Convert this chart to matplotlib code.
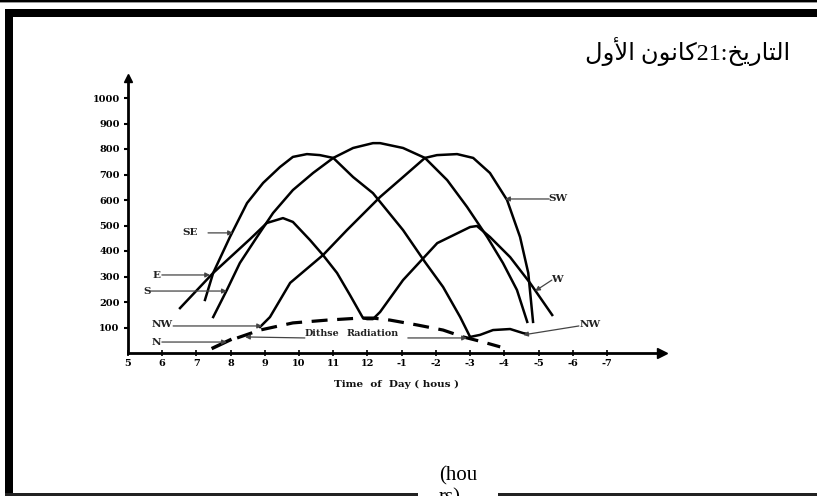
import matplotlib
matplotlib.use("Agg")
import matplotlib.pyplot as plt
from matplotlib.patches import Rectangle

# ---------------- data ----------------
x_ticks = list(range(5, 20))
x_tick_labels = ['5', '6', '7', '8', '9', '10', '11', '12',
                 '-1', '-2', '-3', '-4', '-5', '-6', '-7']
y_ticks = [100, 200, 300, 400, 500, 600, 700, 800, 900, 1000]
y_tick_labels = ['100', '200', '300', '400', '500', '600', '700', '800', '900', '1000']

# E (morning) and W (afternoon) drawn as one line
ew_hours = [6.52, 7.49, 8.57, 9.06, 9.53, 9.82, 10.32, 10.70, 11.11, 11.49, 11.87,
            11.99, 12.16, 12.37, 13.04, 14.04, 15.0, 15.2, 15.58, 16.17, 16.75, 17.40]
ew_vals = [176, 314, 447, 510, 529, 514, 443, 384, 314, 227, 137,
           133, 133, 161, 286, 431, 494, 498, 455, 376, 275, 149]

se_hours = [7.25, 7.49, 7.98, 8.48, 8.95, 9.44, 9.82, 10.23, 10.61, 11.0, 11.58,
            12.16, 13.04, 13.68, 14.21, 14.71, 15.0]
se_vals = [208, 314, 455, 588, 667, 729, 769, 780, 776, 765, 690,
           627, 482, 357, 259, 141, 63]

nw_pm_hours = [15.0, 15.29, 15.67, 16.17, 16.55, 16.67]
nw_pm_vals = [63, 71, 90, 94, 78, 75]

s_hours = [7.49, 7.89, 8.27, 8.77, 9.24, 9.82, 10.41, 11.0, 11.58, 12.16, 12.37,
           13.04, 13.68, 14.33, 14.91, 15.50, 15.96, 16.37, 16.67]
s_vals = [141, 247, 353, 455, 549, 639, 706, 765, 804, 823, 823,
          804, 765, 678, 573, 455, 353, 247, 122]

sw_hours = [8.86, 9.15, 9.74, 10.70, 11.40, 12.37, 13.04, 13.68, 14.03, 14.62,
            15.09, 15.58, 16.08, 16.46, 16.70, 16.84]
sw_vals = [102, 141, 275, 384, 482, 612, 690, 765, 776, 780,
           765, 706, 600, 455, 314, 122]

diffuse_hours = [8.19, 8.86, 9.82, 10.82, 11.78, 12.16, 12.66, 13.45, 14.21, 14.8, 15.38, 15.88]
diffuse_vals = [59, 90, 118, 129, 137, 137, 129, 110, 90, 63, 43, 24]

n_hours = [7.49, 7.98]
n_vals = [20, 51]

# labels: (text, text_x, text_y, arrow_from_x, arrow_from_y, arrow_to_x, arrow_to_y)
labels = [
    ('SE', 6.81, 471, 7.34, 471, 8.07, 471),
    ('E', 5.82, 302, 5.99, 306, 7.40, 306),
    ('S', 5.56, 243, 5.64, 243, 7.89, 243),
    ('NW', 5.99, 110, 6.32, 106, 8.92, 106),
    ('N', 5.82, 43, 5.99, 43, 7.89, 43),
    ('SW', 17.57, 604, 17.31, 604, 16.02, 604),
    ('W', 17.54, 290, 17.39, 286, 16.90, 243),
    ('NW', 18.5, 110, 18.18, 106, 16.55, 71),
    ('Dithse', 10.67, 78, 10.17, 59, 8.42, 63),
    ('Radiation', 12.16, 75, 13.18, 59, 14.91, 59),
]

x_label = 'Time  of  Day ( hous )'
title_ar = ('\uFEDD\uFEED\uFEF7\uFE8D \uFEE5\uFEEE\uFEE7\uFE8E\uFEDB'
            '21:\uFEA6\uFEF3\uFEAD\uFE8E\uFE98\uFEDF\uFE8D')  # التاريخ:21كانون الأول

# ---------------- figure ----------------
W, H = 817, 496
fig = plt.figure(figsize=(W / 100, H / 100), dpi=100)
fig.patch.set_facecolor('white')


def fx(px):
    return px / W


def fy(py):
    return 1 - py / H


# frame pieces
def rect(x0, y0, x1, y1, color='black'):
    fig.add_artist(Rectangle((fx(x0), fy(y1)), fx(x1) - fx(x0), fy(y0) - fy(y1),
                             transform=fig.transFigure, facecolor=color,
                             edgecolor='none', zorder=5))


rect(0, 0, W, 2.2)
rect(0, 2.2, W, 3.2, '#999999')
rect(5, 9, W, 17)
rect(5, 9, 13, 494)
rect(5, 493.3, 418, 495.5, '#222222')
rect(498, 493.3, W, 495.5, '#222222')

# axes
ax_left, ax_right, ax_top, ax_bottom = 128, 662, 78, 353
ax = fig.add_axes([fx(ax_left), fy(ax_bottom), fx(ax_right) - fx(ax_left),
                   fy(ax_top) - fy(ax_bottom)])
ax.set_xlim(5, 5 + (ax_right - ax_left) / 34.21)
ax.set_ylim(0, (ax_bottom - ax_top) / 0.255)
ax.patch.set_alpha(0)
for side in ('top', 'right'):
    ax.spines[side].set_visible(False)
for side in ('left', 'bottom'):
    ax.spines[side].set_linewidth(2.0)
    ax.spines[side].set_color('black')
ax.plot(1, 0, '>', color='black', markersize=7, transform=ax.transAxes, clip_on=False)
ax.plot(0, 1, '^', color='black', markersize=6, transform=ax.transAxes, clip_on=False)

tick_font = dict(family='DejaVu Serif', weight='bold', size=7)
ax.set_xticks(x_ticks)
ax.set_xticklabels(x_tick_labels, **tick_font)
ax.set_yticks(y_ticks)
ax.set_yticklabels(y_tick_labels, **tick_font)
ax.tick_params(axis='x', direction='inout', length=5, width=1.2, pad=2, colors='black')
ax.tick_params(axis='y', direction='out', length=3, width=1.5, pad=3, colors='black')

lw = 1.8
ax.plot(ew_hours, ew_vals, color='black', lw=lw, solid_joinstyle='round')
ax.plot(se_hours, se_vals, color='black', lw=lw, solid_joinstyle='round')
ax.plot(nw_pm_hours, nw_pm_vals, color='black', lw=lw, solid_joinstyle='round')
ax.plot(s_hours, s_vals, color='black', lw=lw, solid_joinstyle='round')
ax.plot(sw_hours, sw_vals, color='black', lw=lw, solid_joinstyle='round')
ax.plot(diffuse_hours, diffuse_vals, color='black', lw=2.3, dashes=(5, 3))
ax.plot(n_hours, n_vals, color='black', lw=2.5)

label_font = dict(family='DejaVu Serif', weight='bold', size=7.5, color='#222222')
small_font = dict(family='DejaVu Serif', weight='bold', size=6.8, color='#222222')
for text, tx, ty, ax0, ay0, ax1, ay1 in labels:
    f = small_font if text in ('Dithse', 'Radiation') else label_font
    ax.text(tx, ty, text, ha='center', va='center', **f)
    ax.annotate('', xy=(ax1, ay1), xytext=(ax0, ay0),
                arrowprops=dict(arrowstyle='-|>', lw=0.9, color='#444444',
                                mutation_scale=7, shrinkA=0, shrinkB=0))

fig.text(fx(396), fy(384), x_label, ha='center', va='center',
         family='DejaVu Serif', weight='bold', size=7.5, color='#111111')

# title (Arabic, visual order with presentation forms)
fig.text(fx(790), fy(60), title_ar, ha='right', va='baseline',
         family=['Liberation Serif', 'DejaVu Sans'], size=17.4, color='black')

# cut-off text at the bottom (as in the reference)
fig.text(fx(458), fy(480), '(hou', ha='center', va='baseline',
         family='Liberation Serif', size=15, color='black')
fig.text(fx(450), fy(502), 'rs)', ha='center', va='baseline',
         family='Liberation Serif', size=15, color='black')

fig.savefig('out.png', dpi=100)
